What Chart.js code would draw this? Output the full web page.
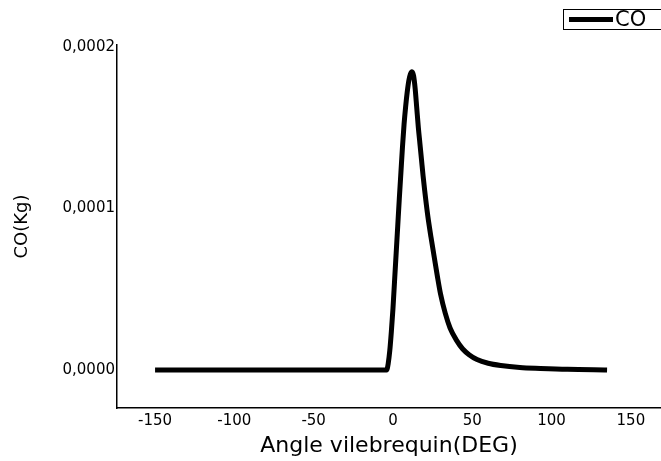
<!DOCTYPE html>
<html><head><meta charset="utf-8">
<script src="https://cdn.jsdelivr.net/npm/chart.js@4/dist/chart.umd.min.js"></script>
<style>html,body{margin:0;padding:0;background:#fff;overflow:hidden}#wrap{width:661px;height:461px;position:relative}</style>
</head><body><div id="wrap"><canvas id="c"></canvas></div>
<script>
// crank angle (deg)
const angles = [-150, -100, -50, -10, -5, -4, -3, -2, -1, 0, 1, 2, 3, 4, 5, 6, 7, 8, 9, 10, 11, 12, 13, 14, 15, 16, 17, 18, 19, 20, 22, 24, 26, 28, 30, 33, 36, 40, 44, 48, 53, 60, 68, 80, 93, 110, 135];
// CO mass (kg)
const coValues = [0, 0, 0, 0, 0, 0, 0.04e-4, 0.12e-4, 0.24e-4, 0.38e-4, 0.55e-4, 0.72e-4, 0.89e-4, 1.06e-4, 1.22e-4, 1.38e-4, 1.52e-4, 1.63e-4, 1.72e-4, 1.79e-4, 1.83e-4, 1.845e-4, 1.82e-4, 1.74e-4, 1.62e-4, 1.50e-4, 1.40e-4, 1.30e-4, 1.20e-4, 1.11e-4, 0.95e-4, 0.82e-4, 0.70e-4, 0.58e-4, 0.47e-4, 0.35e-4, 0.26e-4, 0.185e-4, 0.13e-4, 0.095e-4, 0.065e-4, 0.042e-4, 0.028e-4, 0.016e-4, 0.01e-4, 0.004e-4, 0];
const xTicks = [-150, -100, -50, 0, 50, 100, 150];
const yTicks = [0, 0.0001, 0.0002];
const seriesLabel = 'CO';
const xTitle = 'Angle vilebrequin(DEG)';
const yTitle = 'CO(Kg)';

const FONT = '"DejaVu Sans", sans-serif';

const legendPlugin = {
  id: 'boxLegend',
  afterDraw(chart) {
    const ctx = chart.ctx;
    ctx.save();
    ctx.strokeStyle = '#000';
    ctx.lineWidth = 1;
    ctx.strokeRect(563.5, 9.5, 120, 20);
    ctx.lineWidth = 5;
    ctx.beginPath();
    ctx.moveTo(569, 19.5);
    ctx.lineTo(613, 19.5);
    ctx.stroke();
    ctx.fillStyle = '#000';
    ctx.font = '21px ' + FONT;
    ctx.textBaseline = 'middle';
    ctx.textAlign = 'left';
    ctx.fillText(chart.data.datasets[0].label, 615, 20.5);
    ctx.restore();
  }
};

new Chart(document.getElementById('c'), {
  type: 'line',
  data: {
    datasets: [{
      label: seriesLabel,
      data: angles.map((a, i) => ({x: a, y: coValues[i]})),
      borderColor: '#000',
      backgroundColor: '#000',
      borderWidth: 5,
      pointRadius: 0,
      cubicInterpolationMode: 'monotone',
      fill: false
    }]
  },
  options: {
    responsive: true,
    maintainAspectRatio: false,
    animation: false,
    devicePixelRatio: 1,
    layout: {padding: {top: 45, right: 0, bottom: 0, left: 0}},
    plugins: {legend: {display: false}, tooltip: {enabled: false}},
    scales: {
      x: {
        type: 'linear',
        min: -174, max: 169,
        afterBuildTicks: s => { s.ticks = xTicks.map(v => ({value: v})); },
        afterFit: s => { s.height = 53; },
        grid: {display: false, drawTicks: false},
        border: {display: true, color: '#000', width: 1.5},
        ticks: {padding: 4, color: '#000', font: {family: FONT, size: 15}, maxRotation: 0},
        title: {display: true, text: xTitle, color: '#000', font: {family: FONT, size: 22}, padding: {top: 0, bottom: 2}}
      },
      y: {
        type: 'linear',
        min: -0.0000235, max: 0.000201,
        afterBuildTicks: s => { s.ticks = yTicks.map(v => ({value: v})); },
        afterFit: s => { s.width = 117; },
        grid: {display: false, drawTicks: false},
        border: {display: true, color: '#000', width: 1.5},
        ticks: {padding: 2, color: '#000', font: {family: FONT, size: 15},
          callback: v => v.toFixed(4).replace('.', ',')},
        title: {display: true, text: yTitle, color: '#000', font: {family: FONT, size: 18}, padding: {top: 12, bottom: 0}}
      }
    }
  },
  plugins: [legendPlugin]
});
</script></body></html>
